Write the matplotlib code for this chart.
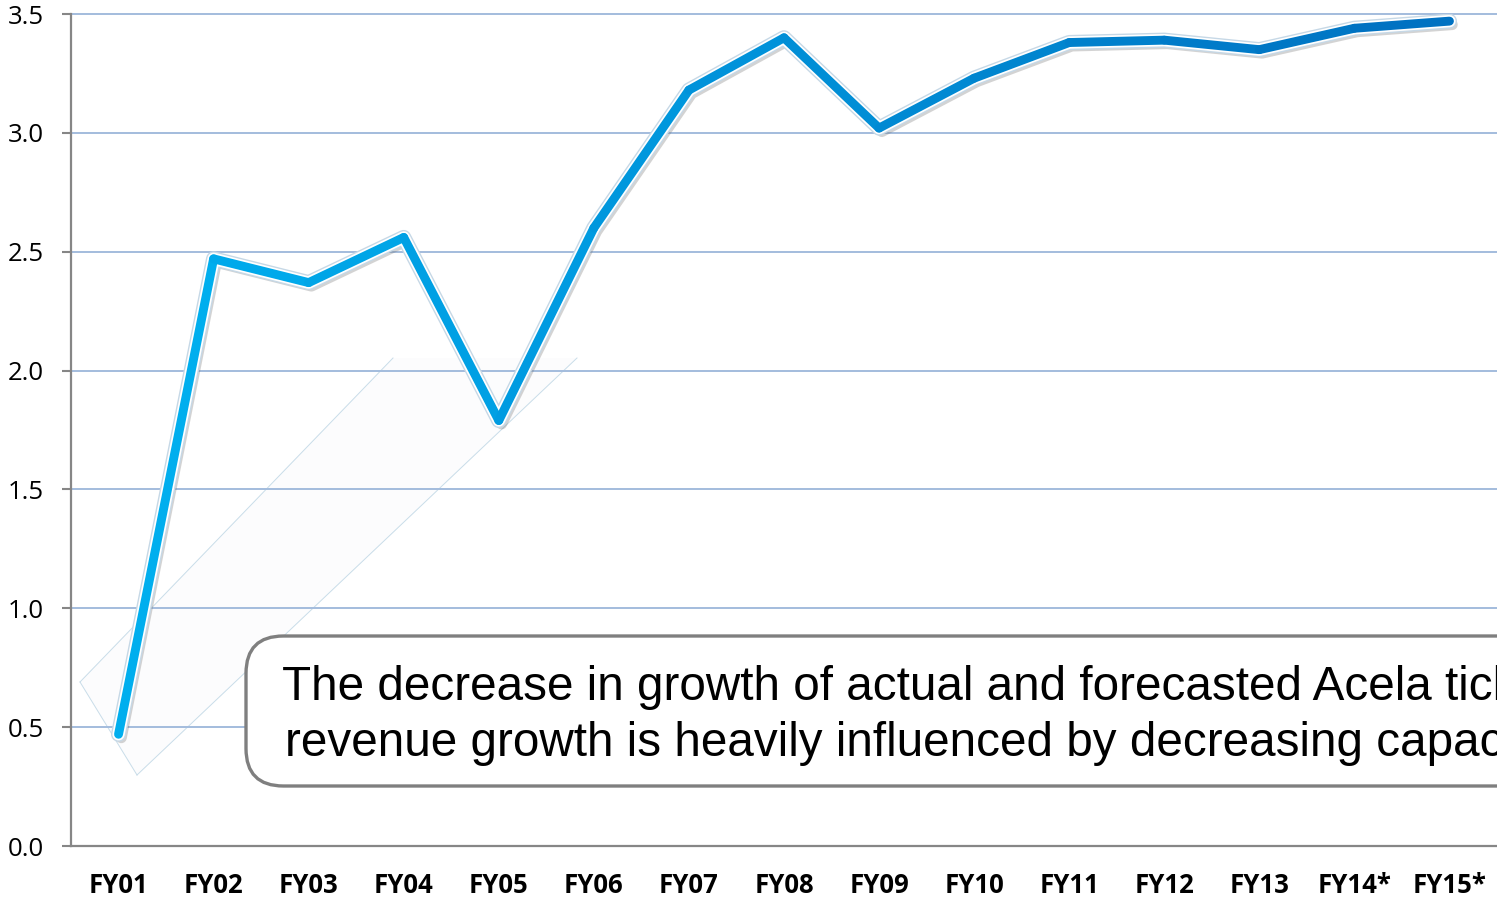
import numpy as np
import matplotlib
matplotlib.use("Agg")
import matplotlib.pyplot as plt
import matplotlib.patheffects as pe
from matplotlib.collections import LineCollection
from matplotlib.colors import to_rgb
from matplotlib.patches import FancyBboxPatch, Polygon

# Fiscal-year categories and the plotted growth values
categories = ["FY01", "FY02", "FY03", "FY04", "FY05", "FY06", "FY07", "FY08",
              "FY09", "FY10", "FY11", "FY12", "FY13", "FY14*", "FY15*"]
values = [0.47, 2.47, 2.37, 2.56, 1.79, 2.60, 3.18, 3.40,
          3.02, 3.23, 3.38, 3.39, 3.35, 3.44, 3.47]
y_ticks = [0.0, 0.5, 1.0, 1.5, 2.0, 2.5, 3.0, 3.5]

note_lines = ["The decrease in growth of actual and forecasted Acela ticket",
              "revenue growth is heavily influenced by decreasing capacity"]

W, H = 1497, 897
fig = plt.figure(figsize=(W / 100, H / 100), dpi=100)
fig.patch.set_facecolor("white")


def fx(px):
    return px / W


def fy(py):
    return 1 - py / H


ax = fig.add_axes([fx(71), fy(846), fx(1497 - 71), (846 - 14) / H])
ax.set_xlim(-0.5, len(categories) - 0.5)
ax.set_ylim(0, 3.5)

# horizontal gridlines
for v in y_ticks[1:]:
    ax.axhline(v, color="#A3BCDD", lw=1.4, zorder=1, clip_on=False)

for side in ("top", "right"):
    ax.spines[side].set_visible(False)
for side in ("left", "bottom"):
    ax.spines[side].set_color("#868686")
    ax.spines[side].set_linewidth(1.6)

ax.set_yticks(y_ticks)
ax.set_yticklabels([f"{v:.1f}" for v in y_ticks], fontsize=18.5,
                   fontfamily="Open Sans", color="black")
ax.tick_params(axis="y", length=6.5, width=1.5, color="#868686", pad=13)

x = np.arange(len(categories))
ax.set_xticks(x)
ax.set_xticklabels(categories, fontsize=18.5, fontfamily="Open Sans",
                   fontweight="bold", color="black")
ax.tick_params(axis="x", length=0, pad=18.5)

# faint outline of a rotated frame behind the series
corners = [(80, 682), (137, 775), (577, 358), (393, 358)]
frame = Polygon([(fx(a), fy(b)) for a, b in corners], closed=True,
                transform=fig.transFigure, facecolor="#FCFCFD",
                edgecolor="none", zorder=0.5, clip_on=False)
ax.add_patch(frame)
for i, j in [(0, 1), (0, 3), (1, 2)]:
    (x0, y0), (x1, y1) = corners[i], corners[j]
    ax.add_line(plt.Line2D([fx(x0), fx(x1)], [fy(y0), fy(y1)],
                           transform=fig.transFigure, color="#BCD5E4",
                           lw=0.7, alpha=0.8, zorder=0.6, clip_on=False))

lw = 6.4
# glow outline and soft shadow under the series
ax.plot(x, values, color="white", lw=lw + 2.5, solid_capstyle="round",
        solid_joinstyle="round", zorder=3,
        path_effects=[pe.SimpleLineShadow(offset=(2, -2.5), shadow_color="#6F6F6F",
                                          alpha=0.3, linewidth=lw + 1.5),
                      pe.Stroke(linewidth=lw + 4.5, foreground="#C6D8E6"),
                      pe.Normal()])

# series coloured from light cyan to deep blue along the x axis
c0 = np.array(to_rgb("#00B0F0"))
c1 = np.array(to_rgb("#0070C0"))
segs = [[(x[i], values[i]), (x[i + 1], values[i + 1])] for i in range(len(x) - 1)]
fracs = [(i + 0.5) / (len(x) - 1) for i in range(len(x) - 1)]
cols = [tuple(c0 + (c1 - c0) * f) for f in fracs]
lc = LineCollection(segs, colors=cols, linewidths=lw, capstyle="round",
                    joinstyle="round", zorder=4)
ax.add_collection(lc)

# rounded callout box running off the right edge
box = FancyBboxPatch((fx(246), fy(786)), fx(1700 - 246), (786 - 636) / H,
                     boxstyle="round,pad=0,rounding_size=0.025",
                     transform=fig.transFigure, facecolor="white",
                     edgecolor="#7F7F7F", linewidth=2.4, zorder=5,
                     mutation_aspect=W / H)
fig.patches.append(box)
fig.text(fx(282), fy(700), note_lines[0], fontsize=34.3, fontfamily="Liberation Sans",
         color="black", ha="left", va="baseline", zorder=6)
fig.text(fx(285), fy(756), note_lines[1], fontsize=34.3, fontfamily="Liberation Sans",
         color="black", ha="left", va="baseline", zorder=6)

fig.savefig("out.png", dpi=100, facecolor="white")
